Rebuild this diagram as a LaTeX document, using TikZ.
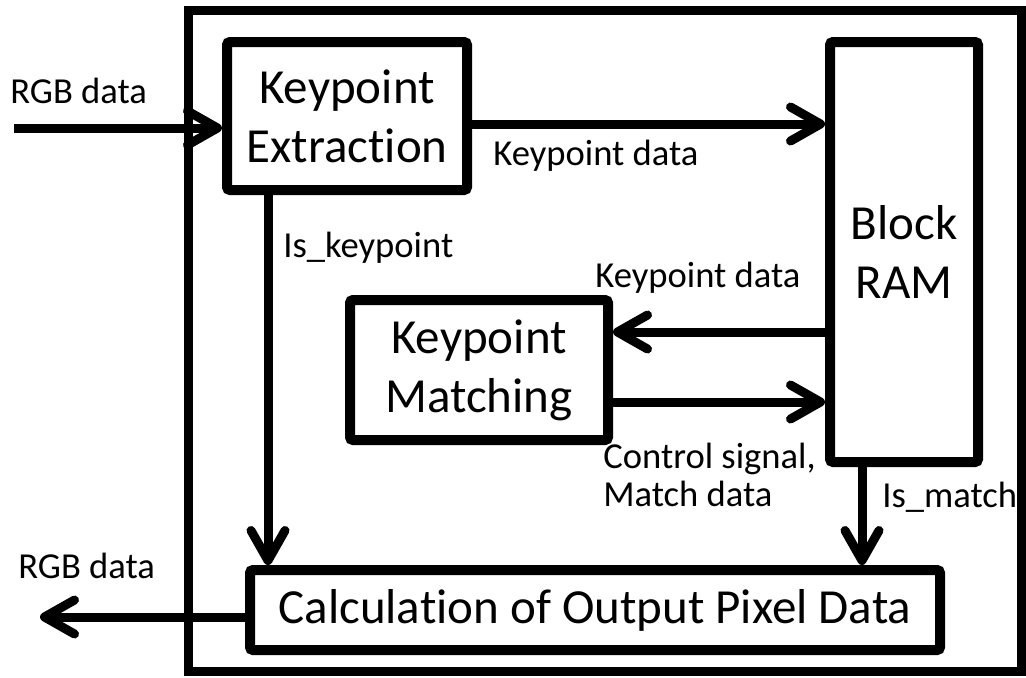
\documentclass[tikz,border=0pt]{standalone}
\usepackage{fontspec}
\setmainfont{Carlito}[Ligatures=NoCommon]
\usetikzlibrary{arrows.meta, positioning, calc}

\begin{document}
\begin{tikzpicture}[
    x=0.5pt, y=-0.5pt,
    frame/.style={draw, line width=4.5pt, outer sep=2.25pt, minimum width=416.5pt, minimum height=330.5pt, inner sep=0pt},
    block/.style={draw, line width=5pt, rounded corners=1.5pt, outer sep=2.5pt, inner sep=0pt, align=center, font=\fontsize{24.5pt}{29.5pt}\selectfont},
    lbl/.style={inner sep=0pt, anchor=base west, align=left, font=\fontsize{18.3pt}{19pt}\selectfont},
    arr/.style={line width=4.5pt, -{Straight Barb[length=15pt, width=17pt, round]}},
]
\useasboundingbox (0,0) rectangle (1026,677);

% Outer frame
\node[frame] (chip) at (604.5,340.5) {};

% Blocks
\node[block, minimum width=120pt, minimum height=74pt] (kex) at (347,116) {Keypoint\\Extraction};
\node[block, minimum width=74pt, minimum height=210pt] (bram) at (904,252) {Block\\RAM};
\node[block, minimum width=129pt, minimum height=70pt] (kmatch) at (479,370) {Keypoint\\Matching};
\node[block, minimum width=345pt, minimum height=40pt] (calc) at (595,610) {Calculation of Output Pixel Data};

% Free ends
\coordinate (rgbsrc) at (14,128);
\coordinate (rgbdst) at (40,617);

% Connectors
\draw[arr] (rgbsrc) -- (rgbsrc -| kex.west);
\draw[arr] ([yshift=-4pt]kex.east) -- ([yshift=-4pt]kex.east -| bram.west);
\draw[arr] ([yshift=-40pt]bram.west) -- ([yshift=-40pt]bram.west -| kmatch.east);
\draw[arr] ([yshift=-16pt]kmatch.east) -- ([yshift=-16pt]kmatch.east -| bram.west);
\draw[arr] ([xshift=-39.5pt]kex.south) -- ([xshift=-39.5pt]kex.south |- calc.north);
\draw[arr] ([xshift=-21pt]bram.south) -- ([xshift=-21pt]bram.south |- calc.north);
\draw[arr] ([yshift=-3.5pt]calc.west) -- ([yshift=-3.5pt]calc.west -| rgbdst);

% Labels
\node[lbl] (rgbin) at (10,103) {RGB data};
\node[lbl] (kdtop) at (493,165) {Keypoint data};
\node[lbl] (iskp) at (283,257) {Is\_keypoint};
\node[lbl] (kdmid) at (595,287) {Keypoint data};
\node[lbl] (ctrl) at (603,506) {Control signal,\\Match data};
\node[lbl] (ismatch) at (882,507) {Is\_match};
\node[lbl] (rgbout) at (18,578) {RGB data};

\end{tikzpicture}
\end{document}
